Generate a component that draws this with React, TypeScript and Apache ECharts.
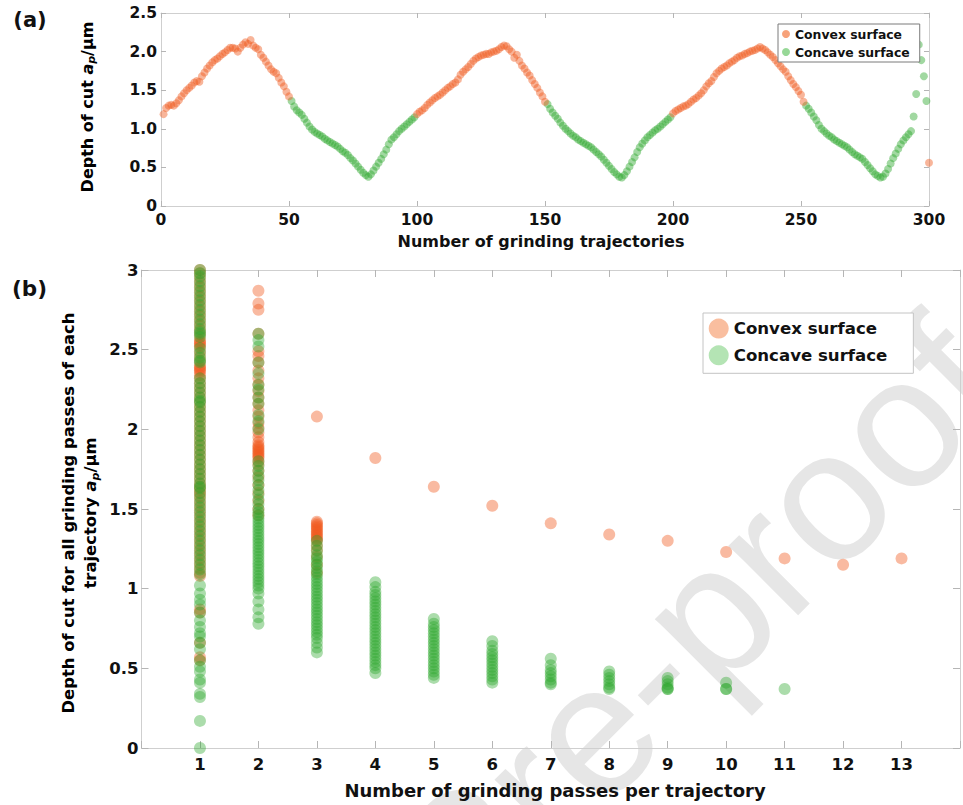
import React, { useEffect, useRef } from 'react';
import * as echarts from 'echarts';

const FONT = "'DejaVu Sans', sans-serif";
const TXT = '#111111';
const ORANGE = '#F05A1E';
const GREEN = '#2EA82E';

// ---------- Panel (a): depth of cut per trajectory (trajectory 1..300) ----------
const DEPTH_A: number[] = [
  1.19, 1.27, 1.30, 1.31, 1.30, 1.33, 1.37, 1.42, 1.46, 1.50,
  1.53, 1.56, 1.60, 1.62, 1.61, 1.68, 1.73, 1.78, 1.82, 1.86,
  1.89, 1.91, 1.94, 1.97, 1.99, 2.02, 2.05, 2.05, 2.04, 2.00,
  2.05, 2.09, 2.12, 2.10, 2.15, 2.08, 2.05, 2.03, 1.96, 1.92,
  1.87, 1.82, 1.77, 1.74, 1.72, 1.66, 1.60, 1.55, 1.48, 1.42,
  1.36, 1.29, 1.24, 1.21, 1.18, 1.13, 1.08, 1.03, 0.99, 0.96,
  0.94, 0.92, 0.90, 0.87, 0.85, 0.83, 0.81, 0.79, 0.77, 0.74,
  0.71, 0.69, 0.66, 0.62, 0.59, 0.55, 0.51, 0.47, 0.43, 0.40,
  0.38, 0.41, 0.46, 0.51, 0.56, 0.61, 0.67, 0.73, 0.80, 0.86,
  0.89, 0.93, 0.97, 1.00, 1.03, 1.06, 1.09, 1.12, 1.15, 1.19,
  1.22, 1.24, 1.27, 1.31, 1.34, 1.37, 1.40, 1.42, 1.44, 1.47,
  1.50, 1.53, 1.55, 1.58, 1.60, 1.64, 1.70, 1.74, 1.77, 1.80,
  1.84, 1.88, 1.91, 1.93, 1.95, 1.96, 1.97, 1.97, 1.99, 2.00,
  2.01, 2.03, 2.06, 2.08, 2.07, 2.03, 2.00, 1.92, 1.96, 1.88,
  1.82, 1.78, 1.73, 1.69, 1.63, 1.58, 1.53, 1.47, 1.42, 1.35,
  1.32, 1.26, 1.21, 1.17, 1.13, 1.08, 1.04, 1.00, 0.97, 0.94,
  0.91, 0.89, 0.86, 0.84, 0.82, 0.80, 0.78, 0.76, 0.73, 0.70,
  0.67, 0.64, 0.60, 0.56, 0.52, 0.48, 0.44, 0.41, 0.38, 0.37,
  0.40, 0.45, 0.51, 0.57, 0.63, 0.70, 0.76, 0.81, 0.85, 0.89,
  0.92, 0.95, 0.98, 1.00, 1.03, 1.06, 1.09, 1.12, 1.15, 1.20,
  1.23, 1.25, 1.27, 1.29, 1.30, 1.32, 1.35, 1.38, 1.40, 1.43,
  1.46, 1.50, 1.55, 1.59, 1.62, 1.67, 1.72, 1.75, 1.78, 1.80,
  1.82, 1.85, 1.87, 1.89, 1.92, 1.94, 1.95, 1.97, 1.98, 2.00,
  2.01, 2.02, 2.04, 2.06, 2.04, 2.02, 1.99, 1.96, 1.93, 1.89,
  1.85, 1.81, 1.77, 1.74, 1.68, 1.63, 1.58, 1.54, 1.49, 1.44,
  1.35, 1.30, 1.26, 1.21, 1.16, 1.11, 1.05, 1.00, 0.97, 0.94,
  0.91, 0.89, 0.86, 0.84, 0.82, 0.80, 0.78, 0.76, 0.73, 0.70,
  0.67, 0.65, 0.63, 0.61, 0.57, 0.53, 0.49, 0.45, 0.41, 0.39,
  0.37, 0.38, 0.42, 0.48, 0.55, 0.62, 0.68, 0.74, 0.80, 0.85,
  0.89, 0.93, 0.97, 1.16, 1.45, 2.09, 1.89, 1.68, 1.36, 0.56,
];
// trajectories on the convex surface (inclusive ranges); all others are concave
const CONVEX_RANGES_A: [number, number][] = [[1, 50], [100, 150], [200, 251], [300, 300]];

// ---------- Panel (b): depth of cut per pass, by passes per trajectory ----------
const CONVEX_P1 = [0.55, 0.57, 0.66, 0.85, 0.87, 1.08, 1.10, 1.13, 1.16, 1.19, 1.22, 1.25, 1.28, 1.31, 1.34, 1.37, 1.40,
  1.43, 1.46, 1.49, 1.52, 1.55, 1.58, 1.60, 1.62, 1.64, 1.66, 1.69, 1.72, 1.75, 1.78, 1.81, 1.84, 1.87, 1.90, 1.93, 1.96,
  1.99, 2.02, 2.05, 2.08, 2.11, 2.14, 2.17, 2.20, 2.23, 2.26, 2.29, 2.32, 2.34, 2.36, 2.37, 2.38, 2.39, 2.40, 2.43, 2.46,
  2.49, 2.52, 2.53, 2.54, 2.55, 2.56, 2.59, 2.62, 2.65, 2.68, 2.71, 2.74, 2.77, 2.80, 2.83, 2.86, 2.89, 2.92, 2.95, 2.98, 3.00];
const CONVEX_P2 = [1.46, 1.50, 1.55, 1.60, 1.65, 1.70, 1.74, 1.78, 1.80, 1.82, 1.83, 1.84, 1.85, 1.86, 1.87, 1.88, 1.89,
  1.90, 1.92, 1.95, 1.98, 2.01, 2.04, 2.08, 2.12, 2.16, 2.20, 2.24, 2.28, 2.32, 2.37, 2.42, 2.46, 2.49, 2.60, 2.75, 2.79, 2.87];
const CONVEX_P3 = [1.10, 1.15, 1.20, 1.24, 1.27, 1.30, 1.31, 1.32, 1.33, 1.34, 1.35, 1.36, 1.37, 1.38, 1.39, 1.40, 1.41, 1.42, 2.08];
// one convex trajectory each for 4..13 passes
const CONVEX_TAIL = [1.82, 1.64, 1.52, 1.41, 1.34, 1.30, 1.23, 1.19, 1.15, 1.19];

const CONCAVE_P1 = [0.00, 0.17, 0.32, 0.34, 0.41, 0.43, 0.48, 0.51, 0.55, 0.62, 0.66, 0.70, 0.72, 0.76, 0.80, 0.85, 0.90,
  0.93, 0.97, 1.02, 1.09, 1.12, 1.15, 1.18, 1.21, 1.24, 1.27, 1.30, 1.33, 1.36, 1.39, 1.42, 1.45, 1.48, 1.51, 1.54, 1.57,
  1.60, 1.63, 1.64, 1.66, 1.69, 1.72, 1.75, 1.78, 1.81, 1.84, 1.87, 1.90, 1.93, 1.96, 1.99, 2.02, 2.05, 2.08, 2.11, 2.14,
  2.17, 2.18, 2.20, 2.23, 2.26, 2.29, 2.32, 2.42, 2.43, 2.45, 2.48, 2.51, 2.58, 2.60, 2.61, 2.63, 2.66, 2.69, 2.72, 2.75,
  2.78, 2.81, 2.84, 2.87, 2.90, 2.93, 2.96, 2.98, 3.00];
const CONCAVE_P2 = [0.78, 0.82, 0.87, 0.92, 0.97, 1.00, 1.02, 1.04, 1.06, 1.08, 1.10, 1.12, 1.14, 1.16, 1.18, 1.20, 1.22,
  1.24, 1.26, 1.28, 1.30, 1.32, 1.34, 1.36, 1.38, 1.40, 1.42, 1.44, 1.46, 1.48, 1.50, 1.53, 1.56, 1.59, 1.62, 1.65, 1.68,
  1.71, 1.74, 1.77, 1.80, 2.00, 2.05, 2.09, 2.16, 2.20, 2.25, 2.28, 2.35, 2.42, 2.52, 2.56, 2.60];
const CONCAVE_P3 = [0.60, 0.63, 0.66, 0.69, 0.71, 0.73, 0.75, 0.77, 0.79, 0.81, 0.83, 0.85, 0.87, 0.89, 0.91, 0.93, 0.95,
  0.97, 0.99, 1.01, 1.03, 1.05, 1.07, 1.09, 1.11, 1.13, 1.15, 1.17, 1.19, 1.21, 1.24, 1.27, 1.30];
const CONCAVE_P4 = [0.47, 0.50, 0.52, 0.54, 0.56, 0.58, 0.60, 0.62, 0.64, 0.66, 0.68, 0.70, 0.72, 0.74, 0.76, 0.78, 0.80,
  0.82, 0.84, 0.86, 0.88, 0.90, 0.92, 0.94, 0.96, 0.98, 1.01, 1.04];
const CONCAVE_P5 = [0.44, 0.46, 0.48, 0.50, 0.52, 0.54, 0.56, 0.58, 0.60, 0.62, 0.64, 0.66, 0.68, 0.70, 0.72, 0.74, 0.76, 0.78, 0.81];
const CONCAVE_P6 = [0.41, 0.43, 0.45, 0.47, 0.49, 0.51, 0.53, 0.55, 0.57, 0.59, 0.61, 0.64, 0.67];
const CONCAVE_P7 = [0.40, 0.41, 0.43, 0.45, 0.47, 0.49, 0.52, 0.56];
const CONCAVE_P8 = [0.37, 0.38, 0.40, 0.42, 0.44, 0.46, 0.48];
const CONCAVE_P9 = [0.37, 0.37, 0.38, 0.40, 0.42, 0.44];
const CONCAVE_P10 = [0.37, 0.37, 0.41];
const CONCAVE_P11 = [0.37];

const PASS_LABELS = ['1', '2', '3', '4', '5', '6', '7', '8', '9', '10', '11', '12', '13'];

function isConvex(t: number) {
  return CONVEX_RANGES_A.some(([a, b]) => t >= a && t <= b);
}

function axisPair(gridIndex: number, min: number, max: number, interval: number, tickLen: number, labelSize: number,
  margin: number, formatter: (v: number) => string, dim: 'x' | 'y') {
  const lineStyle = { color: '#cfcfcf', width: 1 };
  const base = {
    gridIndex, type: 'value', min, max, interval,
    splitLine: { show: false },
    axisLine: { show: true, onZero: false, lineStyle },
    axisTick: { show: true, inside: true, length: tickLen, lineStyle: { color: '#b5b5b5', width: 1 } },
  };
  return [
    {
      ...base,
      position: dim === 'x' ? 'bottom' : 'left',
      axisLabel: { show: true, margin, formatter, color: TXT, fontFamily: FONT, fontWeight: 'bold', fontSize: labelSize },
    },
    {
      ...base,
      position: dim === 'x' ? 'top' : 'right',
      axisLabel: { show: false },
    },
  ];
}

export default function App() {
  const ref = useRef<HTMLDivElement>(null);
  useEffect(() => {
    if (!ref.current) return;
    const chart = echarts.init(ref.current, undefined, { renderer: 'svg' });

    const aConvex: number[][] = [];
    const aConcave: number[][] = [];
    DEPTH_A.forEach((v, i) => {
      const t = i + 1;
      (isConvex(t) ? aConvex : aConcave).push([t, v]);
    });

    const bConvex: number[][] = [
      ...CONVEX_P1.map((v) => [1, v]),
      ...CONVEX_P2.map((v) => [2, v]),
      ...CONVEX_P3.map((v) => [3, v]),
      ...CONVEX_TAIL.map((v, i) => [i + 4, v]),
    ];
    const concaveByPass = [CONCAVE_P1, CONCAVE_P2, CONCAVE_P3, CONCAVE_P4, CONCAVE_P5, CONCAVE_P6, CONCAVE_P7,
      CONCAVE_P8, CONCAVE_P9, CONCAVE_P10, CONCAVE_P11];
    const bConcave: number[][] = [];
    concaveByPass.forEach((arr, i) => arr.forEach((v) => bConcave.push([i + 1, v])));

    const xA = axisPair(0, 0, 300, 50, 5, 15.5, 6, (v) => String(v), 'x');
    const yA = axisPair(0, 0, 2.5, 0.5, 5, 15.5, 4, (v) => (v === 0 ? '0' : v.toFixed(1)), 'y');
    const xB = axisPair(1, 0, 14, 1, 7, 16.5, 8, (v) => (v >= 1 && v <= 13 ? PASS_LABELS[v - 1] : ''), 'x');
    const yB = axisPair(1, 0, 3, 0.5, 7, 16.5, 3, (v) => String(v), 'y');

    const titleStyle = (size: number) => ({ fontFamily: FONT, fontWeight: 'bold', fontSize: size, fill: TXT });
    const richFor = (size: number, lh: number) => ({
      n: { fontFamily: FONT, fontWeight: 'bold', fontSize: size, color: TXT, lineHeight: lh },
      i: { fontFamily: FONT, fontWeight: 'bold', fontStyle: 'italic', fontSize: size, color: TXT, lineHeight: lh },
      s: { fontFamily: FONT, fontWeight: 'bold', fontStyle: 'italic', fontSize: Math.round(size * 0.7), color: TXT,
        lineHeight: lh, verticalAlign: 'bottom' },
    });
    const centered = { align: 'center', verticalAlign: 'middle', textAlign: 'center', textVerticalAlign: 'middle' };

    const option: any = {
      animation: false,
      backgroundColor: '#ffffff',
      grid: [
        { left: 161, top: 13, width: 768, height: 193 },
        { left: 141.5, top: 270, width: 822, height: 478 },
      ],
      xAxis: [...xA, ...xB],
      yAxis: [...yA, ...yB],
      legend: [
        {
          left: 778, top: 24, orient: 'vertical', icon: 'circle', itemWidth: 8, itemHeight: 8, itemGap: 6,
          padding: [4, 10, 4, 4], borderColor: '#7a7a7a', borderWidth: 1, backgroundColor: '#ffffff',
          selectedMode: false,
          textStyle: { fontFamily: FONT, fontWeight: 'bold', fontSize: 12.4, color: TXT },
          data: [
            { name: 'Convex surface', itemStyle: { color: '#F7A27A', opacity: 1 } },
            { name: 'Concave surface', itemStyle: { color: '#97D897', opacity: 1 } },
          ],
        },
        {
          left: 703, top: 313, orient: 'vertical', icon: 'circle', itemWidth: 20, itemHeight: 20, itemGap: 6.7,
          padding: [5.6, 26, 8, 5.7], borderColor: '#c4c4c4', borderWidth: 1, backgroundColor: '#ffffff',
          selectedMode: false,
          textStyle: { fontFamily: FONT, fontWeight: 'bold', fontSize: 16.6, color: TXT },
          data: [
            { name: 'Convex surface', itemStyle: { color: '#F9BE9F', opacity: 1 } },
            { name: 'Concave surface', itemStyle: { color: '#B4E4B4', opacity: 1 } },
          ],
        },
      ],
      graphic: [
        {
          type: 'text', x: 462, y: 860, rotation: Math.PI / 4, z: -10, silent: true,
          style: {
            text: 'Journal Pre-proof', fontFamily: "'Liberation Sans', Arial, sans-serif", fontSize: 186,
            fill: '#e6e6e6', ...centered,
          },
        },
        { type: 'text', x: 30, y: 20, z: 10, style: { text: '(a)', ...titleStyle(21), ...centered } },
        { type: 'text', x: 29.5, y: 288, z: 10, style: { text: '(b)', ...titleStyle(21.5), ...centered } },
        {
          type: 'text', x: 541, y: 241, z: 10,
          style: { text: 'Number of grinding trajectories', ...titleStyle(16), ...centered },
        },
        {
          type: 'text', x: 555, y: 790, z: 10,
          style: { text: 'Number of grinding passes per trajectory', ...titleStyle(18), ...centered },
        },
        {
          type: 'text', x: 87, y: 107, rotation: Math.PI / 2, z: 10,
          style: { text: '{n|Depth of cut }{i|a}{s|p}{n|/μm}', rich: richFor(16, 20), ...centered },
        },
        {
          type: 'text', x: 79, y: 513, rotation: Math.PI / 2, z: 10,
          style: {
            text: '{n|Depth of cut for all grinding passes of each}\n{n|trajectory }{i|a}{s|p}{n|/μm}',
            rich: richFor(16.4, 22), ...centered,
          },
        },
      ],
      series: [
        {
          name: 'Concave surface', type: 'scatter', xAxisIndex: 0, yAxisIndex: 0, symbolSize: 8, data: aConcave,
          itemStyle: { color: GREEN, opacity: 0.45 }, z: 3,
        },
        {
          name: 'Convex surface', type: 'scatter', xAxisIndex: 0, yAxisIndex: 0, symbolSize: 8, data: aConvex,
          itemStyle: { color: ORANGE, opacity: 0.45 }, z: 3,
        },
        {
          name: 'Convex surface', type: 'scatter', xAxisIndex: 2, yAxisIndex: 2, symbolSize: 12, data: bConvex,
          itemStyle: { color: ORANGE, opacity: 0.42 }, z: 3,
        },
        {
          name: 'Concave surface', type: 'scatter', xAxisIndex: 2, yAxisIndex: 2, symbolSize: 12, data: bConcave,
          itemStyle: { color: GREEN, opacity: 0.4 }, z: 4,
        },
      ],
    };
    chart.setOption(option);
    return () => chart.dispose();
  }, []);
  return <div ref={ref} style={{ position: 'absolute', left: 0, top: 0, width: 963, height: 805 }} />;
}
